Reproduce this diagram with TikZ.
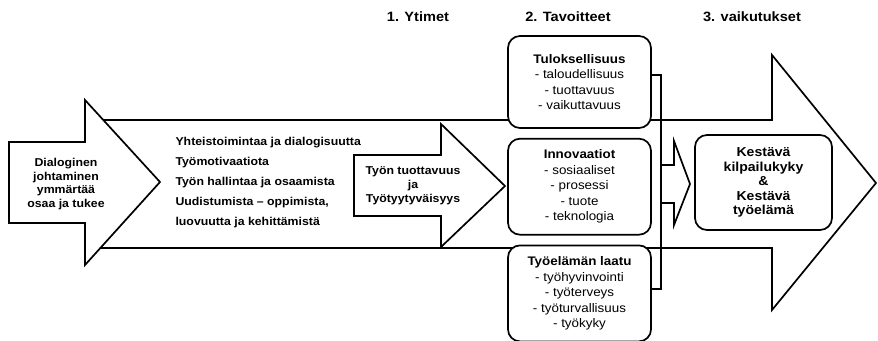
\documentclass[tikz,border=0pt]{standalone}
\usepackage{fontspec}
\setmainfont{Liberation Sans}[FakeStretch=1.08]
\usetikzlibrary{positioning}

\begin{document}
\begin{tikzpicture}[
  x=1pt, y=-1pt,
  node distance=9pt,
  outline/.style={draw, fill=white, line width=1.7pt, line join=miter},
  goalbox/.style={draw, fill=white, line width=1.7pt, rounded corners=12pt, minimum width=143pt, inner sep=2pt, align=center, font=\fontsize{12.4}{15.5}\selectfont},
  title/.style={font=\bfseries\fontsize{13.5}{16}\selectfont},
  arrowtext/.style={align=center, font=\bfseries\fontsize{11.4}{13.8}\selectfont},
  bus/.style={line width=1.7pt, line join=miter},
]
  \useasboundingbox (0,0) rectangle (878,340);

  % big arrow (vaikutukset)
  \draw[outline] (100,120) -- (772,120) -- (772,55) -- (876,183) -- (772,310) -- (772,248) -- (100,248);

  % left arrow
  \draw[outline] (9,142) -- (85,142) -- (85,100) -- (160,182) -- (85,265) -- (85,223) -- (9,223) -- cycle;
  \node[arrowtext] (johto) at (66,184) {Dialoginen\\johtaminen\\ymmärtää\\osaa ja tukee};

  % ytimet
  \node[anchor=west, align=left, font=\bfseries\fontsize{11.4}{20}\selectfont] (ytimet) at (172,183) {
    Yhteistoimintaa ja dialogisuutta\\
    Työmotivaatiota\\
    Työn hallintaa ja osaamista\\
    Uudistumista – oppimista,\\
    luovuutta ja kehittämistä
  };

  % middle arrow
  \draw[outline] (354,155) -- (441,155) -- (441,124) -- (505,186) -- (441,247) -- (441,216) -- (354,216) -- cycle;
  \node[arrowtext] (tyon) at (413,186) {Työn tuottavuus\\ja\\Työtyytyväisyys};

  % tavoitteet
  \node[goalbox, minimum height=92pt] (tulos) at (579.5,82) {
    \textbf{Tuloksellisuus}\\
    - taloudellisuus\\
    - tuottavuus\\
    - vaikuttavuus
  };
  \node[goalbox, minimum height=96pt, below=of tulos] (innov) {
    \textbf{Innovaatiot}\\
    - sosiaaliset\\
    - prosessi\\
    - tuote\\
    - teknologia
  };
  \node[goalbox, minimum height=96pt, below=of innov] (laatu) {
    \textbf{Työelämän laatu}\\
    - työhyvinvointi\\
    - työterveys\\
    - työturvallisuus\\
    - työkyky
  };

  % collecting line
  \coordinate (bustop) at (661,75);
  \coordinate (busbot) at (661,289);
  \draw[bus] (tulos.east |- bustop) -- (bustop) -- (busbot) -- (laatu.east |- busbot);
  \draw[bus] (661,165) -- (674,165) -- (674,141) -- (690,184) -- (674,225) -- (674,203) -- (661,203);

  \node[goalbox, minimum width=137pt, minimum height=95pt, font=\bfseries\fontsize{13}{14.5}\selectfont] (kesta) at (763.5,182.5) {
    Kestävä\\kilpailukyky\\\&\\Kestävä\\työelämä
  };

  % otsikot
  \node[title] (t1) at (418,17) {1. Ytimet};
  \node[title] (t2) at (568,17) {2. Tavoitteet};
  \node[title] (t3) at (752,17) {3. vaikutukset};
\end{tikzpicture}
\end{document}
